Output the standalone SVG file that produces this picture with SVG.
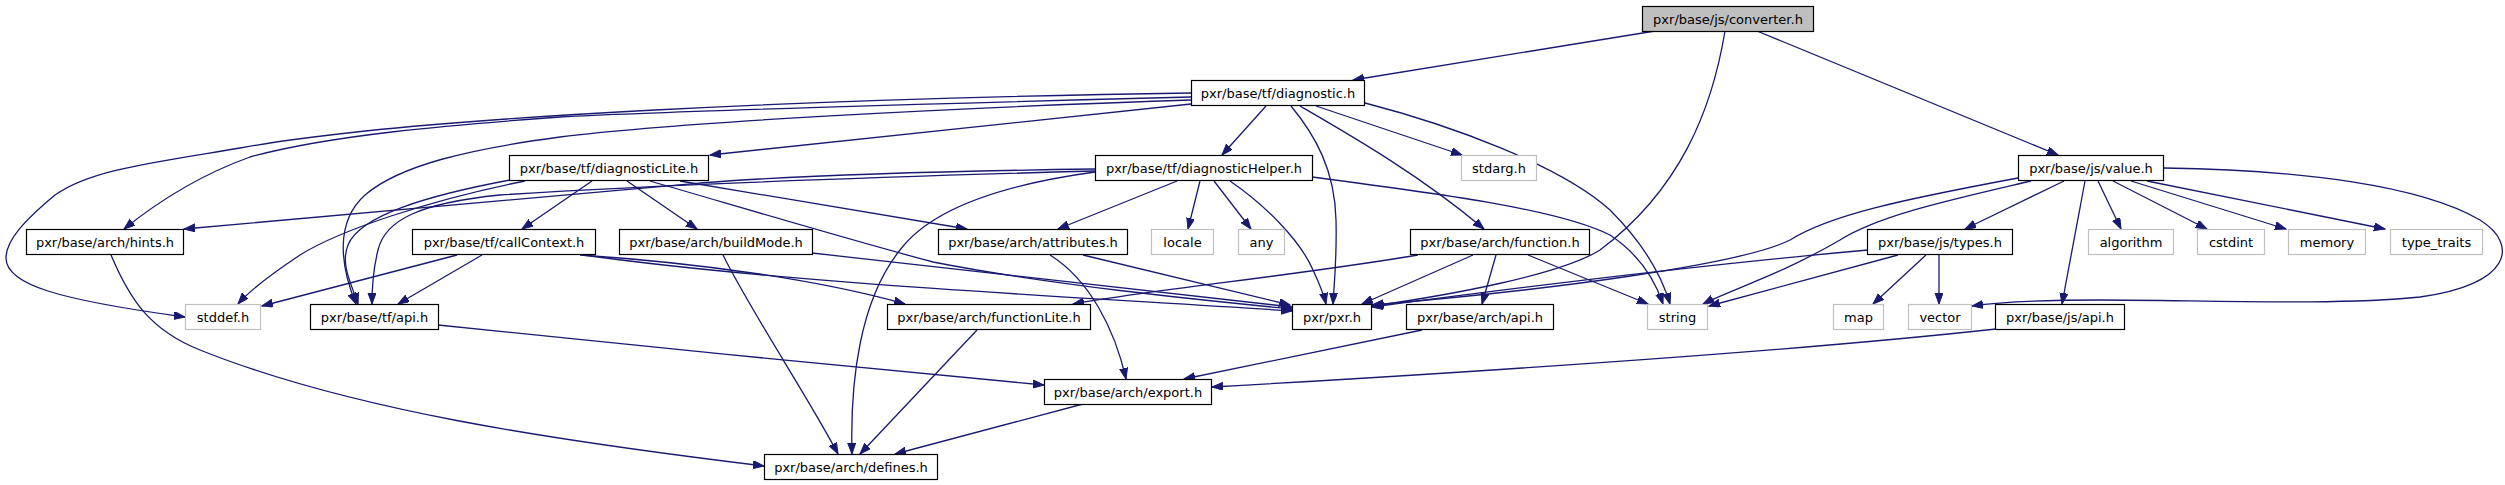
<svg xmlns="http://www.w3.org/2000/svg" width="2505" height="485" viewBox="0 0 2505 485">
<style>
.n rect{fill:#fff;stroke:#000;stroke-width:1.2}
.g rect{fill:#fff;stroke:#bfbfbf;stroke-width:1.2}
.root rect{fill:#bfbfbf;stroke:#000;stroke-width:1.2}
text{font-family:"DejaVu Sans",sans-serif;font-size:13px;text-anchor:middle;fill:#000}
#edges path{fill:none;stroke:#191970;stroke-width:1.3;marker-end:url(#ah)}
</style>
<defs>
<marker id="ah" markerUnits="userSpaceOnUse" markerWidth="13" markerHeight="10" refX="11" refY="4" orient="auto">
<path d="M0,0 L11,4 L0,8 z" fill="#191970" stroke="#191970"/>
</marker>
</defs>
<rect width="2505" height="485" fill="#fff"/>
<g id="edges">
<path d="M1655,31 L1353,80"/>
<path d="M1725,31 C1712,110 1680,190 1600,250 C1560,275 1450,295 1373,306"/>
<path d="M1757,31 L2058,155"/>
<path d="M1191,104 L710,155"/>
<path d="M1191,97 C950,103 650,112 560,117 C450,125 330,135 250,157 C200,175 160,200 124,229"/>
<path d="M1191,93 C850,98 420,115 240,148 C150,163 90,170 55,195 C25,220 6,240 6,258 C6,285 60,300 185,317"/>
<path d="M1191,100 C950,108 680,122 560,137 C470,149 400,165 365,195 C335,222 340,265 356,304"/>
<path d="M1266,106 L1222,155"/>
<path d="M1291,106 C1315,135 1335,170 1336,220 C1337,260 1334,285 1333,304"/>
<path d="M1316,106 L1462,155"/>
<path d="M1300,106 C1350,135 1420,175 1484,229"/>
<path d="M1365,103 C1450,125 1560,165 1610,210 C1640,240 1660,270 1670,304"/>
<path d="M592,181 L522,229"/>
<path d="M627,181 L697,229"/>
<path d="M525,181 C430,200 340,230 300,255 C270,275 250,290 238,304"/>
<path d="M510,180 C430,195 360,215 348,245 C340,265 352,285 358,304"/>
<path d="M680,181 L967,229"/>
<path d="M650,181 C750,210 850,240 933,262 C1050,285 1200,300 1292,309"/>
<path d="M1177,181 L1058,229"/>
<path d="M1200,181 L1188,229"/>
<path d="M1214,181 L1251,229"/>
<path d="M1230,181 C1265,205 1300,240 1313,270 C1320,285 1324,295 1326,304"/>
<path d="M1312,177 C1450,195 1560,210 1610,235 C1640,255 1655,280 1663,304"/>
<path d="M1095,171 C950,175 700,182 500,195 C420,203 385,220 378,250 C373,270 372,285 372,304"/>
<path d="M1095,169 C950,171 800,175 700,183 C500,200 300,218 184,229"/>
<path d="M1095,172 C1000,185 930,210 900,250 C860,300 850,380 852,454"/>
<path d="M457,255 L262,306"/>
<path d="M482,255 L398,304"/>
<path d="M580,255 C700,263 820,280 905,304"/>
<path d="M583,255 C800,285 1100,298 1292,311"/>
<path d="M812,253 L1292,307"/>
<path d="M723,255 C750,310 810,400 838,454"/>
<path d="M1083,255 L1290,305"/>
<path d="M1050,255 C1090,280 1115,330 1126,379"/>
<path d="M1418,255 C1300,275 1150,290 1073,304"/>
<path d="M1473,255 L1362,304"/>
<path d="M1496,255 L1482,304"/>
<path d="M1528,255 L1648,304"/>
<path d="M1868,250 C1700,265 1500,290 1372,307"/>
<path d="M1898,255 L1709,306"/>
<path d="M1926,255 L1873,304"/>
<path d="M1939,255 L1939,304"/>
<path d="M2018,178 C1900,200 1830,215 1790,240 C1740,265 1550,290 1372,305"/>
<path d="M2031,181 C1950,200 1880,215 1840,240 C1780,275 1730,290 1703,304"/>
<path d="M2064,181 L1965,229"/>
<path d="M2085,181 L2062,304"/>
<path d="M2098,181 L2121,229"/>
<path d="M2113,181 L2207,229"/>
<path d="M2131,181 L2286,229"/>
<path d="M2147,181 L2385,229"/>
<path d="M2164,168 C2300,170 2420,185 2480,220 C2520,245 2510,285 2420,297 C2330,306 2200,300 2100,300 C2040,300 2000,302 1972,306"/>
<path d="M1996,329 C1850,345 1600,365 1212,387"/>
<path d="M1422,330 L1184,379"/>
<path d="M438,325 C600,342 900,372 1044,385"/>
<path d="M977,330 L860,454"/>
<path d="M1083,404 L895,454"/>
<path d="M111,255 C130,300 150,330 200,350 C350,410 550,440 764,466"/>
</g>
<g id="converter" class="root"><rect x="1642.5" y="6.5" width="171" height="25"/><text x="1728" y="23.5">pxr/base/js/converter.h</text></g>
<g id="diagnostic" class="n"><rect x="1191.5" y="80.5" width="173" height="25"/><text x="1278" y="97.5">pxr/base/tf/diagnostic.h</text></g>
<g id="diagnosticLite" class="n"><rect x="509.5" y="155.5" width="199" height="25"/><text x="609" y="172.5">pxr/base/tf/diagnosticLite.h</text></g>
<g id="diagnosticHelper" class="n"><rect x="1095.5" y="155.5" width="217" height="25"/><text x="1204" y="172.5">pxr/base/tf/diagnosticHelper.h</text></g>
<g id="stdarg" class="g"><rect x="1461.5" y="155.5" width="75" height="25"/><text x="1499" y="172.5">stdarg.h</text></g>
<g id="value" class="n"><rect x="2018.5" y="155.5" width="145" height="25"/><text x="2091" y="172.5">pxr/base/js/value.h</text></g>
<g id="hints" class="n"><rect x="26.5" y="229.5" width="157" height="25"/><text x="105" y="246.5">pxr/base/arch/hints.h</text></g>
<g id="callContext" class="n"><rect x="412.5" y="229.5" width="183" height="25"/><text x="504" y="246.5">pxr/base/tf/callContext.h</text></g>
<g id="buildMode" class="n"><rect x="619.5" y="229.5" width="193" height="25"/><text x="716" y="246.5">pxr/base/arch/buildMode.h</text></g>
<g id="attributes" class="n"><rect x="938.5" y="229.5" width="189" height="25"/><text x="1033" y="246.5">pxr/base/arch/attributes.h</text></g>
<g id="locale" class="g"><rect x="1151.5" y="229.5" width="62" height="25"/><text x="1182.5" y="246.5">locale</text></g>
<g id="any" class="g"><rect x="1238.5" y="229.5" width="46" height="25"/><text x="1261.5" y="246.5">any</text></g>
<g id="function" class="n"><rect x="1410.5" y="229.5" width="179" height="25"/><text x="1500" y="246.5">pxr/base/arch/function.h</text></g>
<g id="types" class="n"><rect x="1867.5" y="229.5" width="145" height="25"/><text x="1940" y="246.5">pxr/base/js/types.h</text></g>
<g id="algorithm" class="g"><rect x="2088.5" y="229.5" width="85" height="25"/><text x="2131" y="246.5">algorithm</text></g>
<g id="cstdint" class="g"><rect x="2197.5" y="229.5" width="67" height="25"/><text x="2231" y="246.5">cstdint</text></g>
<g id="memory" class="g"><rect x="2288.5" y="229.5" width="77" height="25"/><text x="2327" y="246.5">memory</text></g>
<g id="type_traits" class="g"><rect x="2390.5" y="229.5" width="92" height="25"/><text x="2436.5" y="246.5">type_traits</text></g>
<g id="stddef" class="g"><rect x="185.5" y="304.5" width="75" height="25"/><text x="223" y="321.5">stddef.h</text></g>
<g id="tfapi" class="n"><rect x="310.5" y="304.5" width="128" height="25"/><text x="374.5" y="321.5">pxr/base/tf/api.h</text></g>
<g id="functionLite" class="n"><rect x="887.5" y="304.5" width="203" height="25"/><text x="989" y="321.5">pxr/base/arch/functionLite.h</text></g>
<g id="pxr" class="n"><rect x="1292.5" y="304.5" width="79" height="25"/><text x="1332" y="321.5">pxr/pxr.h</text></g>
<g id="archapi" class="n"><rect x="1406.5" y="304.5" width="147" height="25"/><text x="1480" y="321.5">pxr/base/arch/api.h</text></g>
<g id="string" class="g"><rect x="1647.5" y="304.5" width="60" height="25"/><text x="1677.5" y="321.5">string</text></g>
<g id="map" class="g"><rect x="1833.5" y="304.5" width="50" height="25"/><text x="1858.5" y="321.5">map</text></g>
<g id="vector" class="g"><rect x="1908.5" y="304.5" width="63" height="25"/><text x="1940" y="321.5">vector</text></g>
<g id="jsapi" class="n"><rect x="1995.5" y="304.5" width="129" height="25"/><text x="2060" y="321.5">pxr/base/js/api.h</text></g>
<g id="export" class="n"><rect x="1044.5" y="379.5" width="167" height="25"/><text x="1128" y="396.5">pxr/base/arch/export.h</text></g>
<g id="defines" class="n"><rect x="764.5" y="454.5" width="173" height="25"/><text x="851" y="471.5">pxr/base/arch/defines.h</text></g>
</svg>
